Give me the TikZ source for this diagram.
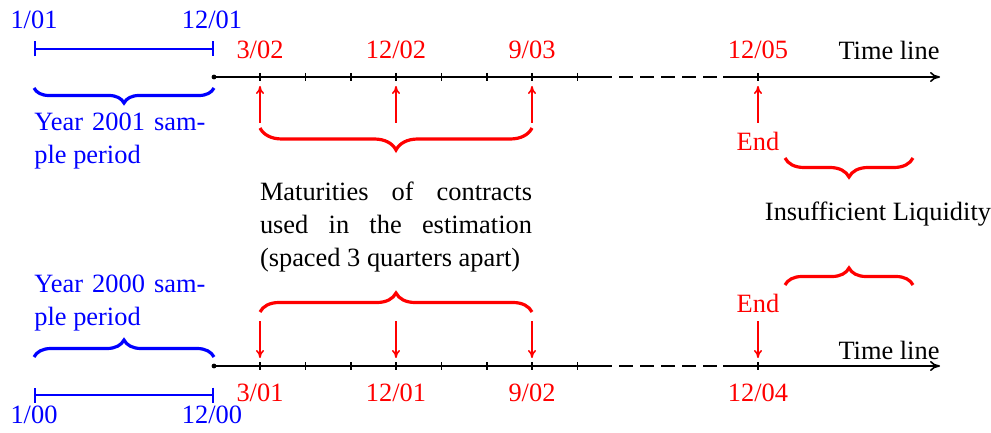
\documentclass[tikz,border=0pt]{standalone}
\usepackage{fontspec}
\setmainfont{Liberation Serif}
\usetikzlibrary{decorations.pathreplacing,arrows.meta}
\begin{document}
\begin{tikzpicture}[x=0.5pt,y=-0.5pt,
  font=\fontsize{13.2}{16.5}\selectfont,
  axis/.style={black, line width=0.8pt},
  tickmark/.style={black, line width=0.9pt},
  span/.style={blue, line width=1pt, {Bar[width=7.5pt]}-{Bar[width=7.5pt]}},
  bluebrace/.style={blue, line width=1.6pt, decorate, decoration={brace, amplitude=#1}},
  redbrace/.style={red, line width=1.6pt, decorate, decoration={brace, amplitude=#1}},
  pointer/.style={red, line width=0.8pt, -{To[length=4pt,width=4pt]}},
  datelabel/.style={red, inner sep=0pt},
  spanlabel/.style={blue, inner sep=0pt},
  plain/.style={black, inner sep=0pt},
]
\useasboundingbox (0,0) rectangle (991,433);

% ---------------- upper time line (2001 sample) ----------------
\coordinate (Ta) at (214,77);
\coordinate (Tb) at (612,77);
\coordinate (Tc) at (723,77);
\coordinate (Td) at (940,77);
\fill (Ta) circle (1.2pt);
\draw[axis] (Ta) -- (Tb);
\draw[axis, dash pattern=on 7pt off 3.5pt, dash phase=7pt] (Tb) -- (Tc);
\draw[axis, -{To[length=5pt,width=5pt]}] (Tc) -- (Td);
\foreach \x in {260,305.5,351,396,441.5,487,532,577.5,758}
  \draw[tickmark] (\x,73) -- (\x,81);

\node[datelabel] (u1) at (260,50) {3/02};
\node[datelabel] (u2) at (396,50) {12/02};
\node[datelabel] (u3) at (532,50) {9/03};
\node[datelabel] (u4) at (758,50) {12/05};
\node[plain] (utl) at (889,50) {Time line};

\coordinate (uk1) at (260,86);
\coordinate (uk2) at (396,86);
\coordinate (uk3) at (532,86);
\coordinate (uk4) at (758,86);
\coordinate (us1) at (260,123);
\coordinate (us2) at (396,123);
\coordinate (us3) at (532,123);
\coordinate (us4) at (758,123);
\draw[pointer] (us1) -- (uk1);
\draw[pointer] (us2) -- (uk2);
\draw[pointer] (us3) -- (uk3);
\draw[pointer] (us4) -- (uk4);

\node[datelabel] (uend) at (758,141) {End};

\draw[redbrace=11pt] (532,128) -- (260,128);
\draw[redbrace=9.5pt] (913,158) -- (785,158);

% sample span 2001
\node[spanlabel] (s1a) at (34,20) {1/01};
\node[spanlabel] (s1b) at (212,20) {12/01};
\coordinate (p1a) at (34,49);
\coordinate (p1b) at (214,49);
\draw[span] (p1a) -- (p1b);
\draw[bluebrace=7.5pt] (214,88) -- (34,88);
\node[spanlabel, anchor=west, align=left] (y2001) at (34,141)
  {\makebox[85.5pt][s]{Year 2001 sam-}\\ple period};

% ---------------- middle texts ----------------
\node[plain, align=left] (mat) at (396,227)
  {\makebox[136pt][s]{Maturities of contracts}\\
   \makebox[136pt][s]{used in the estimation}\\
   (spaced 3 quarters apart)};
\node[plain] (liq) at (878,214) {Insufficient Liquidity};

% ---------------- lower time line (2000 sample) ----------------
\coordinate (Ba) at (214,366);
\coordinate (Bb) at (612,366);
\coordinate (Bc) at (723,366);
\coordinate (Bd) at (940,366);
\fill (Ba) circle (1.2pt);
\draw[axis] (Ba) -- (Bb);
\draw[axis, dash pattern=on 7pt off 3.5pt, dash phase=7pt] (Bb) -- (Bc);
\draw[axis, -{To[length=5pt,width=5pt]}] (Bc) -- (Bd);
\foreach \x in {260,305.5,351,396,441.5,487,532,577.5,758}
  \draw[tickmark] (\x,362) -- (\x,370);

\node[datelabel] (l1) at (260,393) {3/01};
\node[datelabel] (l2) at (396,393) {12/01};
\node[datelabel] (l3) at (532,393) {9/02};
\node[datelabel] (l4) at (758,393) {12/04};
\node[plain] (ltl) at (889,350) {Time line};

\coordinate (lk1) at (260,358);
\coordinate (lk2) at (396,358);
\coordinate (lk3) at (532,358);
\coordinate (lk4) at (758,358);
\coordinate (ls1) at (260,321);
\coordinate (ls2) at (396,321);
\coordinate (ls3) at (532,321);
\coordinate (ls4) at (758,321);
\draw[pointer] (ls1) -- (lk1);
\draw[pointer] (ls2) -- (lk2);
\draw[pointer] (ls3) -- (lk3);
\draw[pointer] (ls4) -- (lk4);

\node[datelabel] (lend) at (758,303) {End};

\draw[redbrace=9.5pt] (260,312) -- (532,312);
\draw[redbrace=8.5pt] (785,285) -- (913,285);

% sample span 2000
\draw[bluebrace=8.5pt] (34,357) -- (214,357);
\node[spanlabel, anchor=west, align=left] (y2000) at (34,303)
  {\makebox[85.5pt][s]{Year 2000 sam-}\\ple period};
\coordinate (p0a) at (34,395);
\coordinate (p0b) at (214,395);
\draw[span] (p0a) -- (p0b);
\node[spanlabel] (s0a) at (34,415) {1/00};
\node[spanlabel] (s0b) at (212,415) {12/00};
\end{tikzpicture}
\end{document}
